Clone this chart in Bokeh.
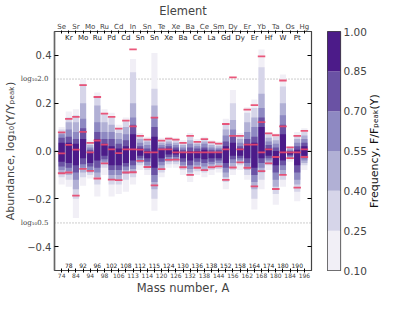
import numpy as np
from bokeh.plotting import figure
from bokeh.layouts import row
from bokeh.models import FixedTicker, LinearAxis, Span, PrintfTickFormatter
from bokeh.embed import file_html
from bokeh.resources import INLINE
from bokeh.core.properties import value

# ---------------- data ----------------
elements = ["Se", "Kr", "Sr", "Mo", "Mo", "Ru", "Ru", "Pd", "Cd", "Cd", "In", "Sn",
            "Sn", "Sn", "Te", "Xe", "Xe", "Ba", "Ba", "Ce", "Ce", "La", "Sm", "Gd",
            "Dy", "Dy", "Er", "Er", "Yb", "Hf", "Ta", "W", "Os", "Pt", "Hg"]
mass_numbers = [74, 78, 84, 92, 94, 96, 98, 102, 106, 108, 113, 112, 114, 115, 120,
                124, 126, 130, 132, 136, 138, 138, 144, 152, 156, 158, 162, 164, 168,
                174, 180, 180, 184, 190, 196]

freq_ticks = [0.10, 0.25, 0.40, 0.55, 0.70, 0.85, 1.00]
palette = ["#f1eff6", "#d6d5e9", "#b1b0d5", "#8e89c2", "#6a52a4", "#4c1b89"]

# upper / lower edges of the region where F/F_peak exceeds each level
top_10 = [0.10, 0.165, 0.175, 0.30, 0.045, 0.245, 0.175, 0.16, 0.11, 0.14, 0.385, 0.075,
          0.06, 0.41, 0.055, 0.06, 0.055, 0.045, 0.075, 0.05, 0.06, 0.045, 0.04, 0.135,
          0.255, 0.075, 0.183, 0.215, 0.425, 0.08, 0.073, 0.32, 0.02, 0.08, 0.095]
top_25 = [0.09, 0.14, 0.15, 0.28, 0.035, 0.23, 0.155, 0.14, 0.095, 0.125, 0.33, 0.065,
          0.05, 0.26, 0.045, 0.05, 0.045, 0.035, 0.06, 0.04, 0.05, 0.035, 0.03, 0.115,
          0.20, 0.065, 0.16, 0.18, 0.35, 0.07, 0.06, 0.27, 0.015, 0.065, 0.08]
top_40 = [0.08, 0.12, 0.12, 0.20, 0.025, 0.19, 0.12, 0.11, 0.075, 0.10, 0.20, 0.05,
          0.04, 0.19, 0.035, 0.04, 0.035, 0.025, 0.045, 0.03, 0.04, 0.025, 0.02, 0.09,
          0.13, 0.05, 0.12, 0.14, 0.24, 0.055, 0.045, 0.20, 0.01, 0.05, 0.065]
top_55 = [0.07, 0.09, 0.08, 0.135, 0.015, 0.12, 0.08, 0.08, 0.05, 0.07, 0.14, 0.035,
          0.025, 0.14, 0.025, 0.03, 0.025, 0.015, 0.03, 0.02, 0.03, 0.015, 0.012, 0.065,
          0.09, 0.035, 0.08, 0.10, 0.18, 0.04, 0.03, 0.15, 0.005, 0.035, 0.05]
top_70 = [0.055, 0.06, 0.05, 0.095, 0.005, 0.08, 0.05, 0.05, 0.03, 0.045, 0.11, 0.02,
          0.01, 0.10, 0.015, 0.02, 0.015, 0.005, 0.015, 0.01, 0.015, 0.005, 0.005, 0.04,
          0.06, 0.02, 0.05, 0.06, 0.14, 0.025, 0.015, 0.11, 0.0, 0.02, 0.035]
top_85 = [0.035, 0.035, 0.03, 0.05, -0.005, 0.05, 0.03, 0.02, 0.01, 0.02, 0.07, 0.01,
          0.0, 0.06, 0.005, 0.01, 0.005, -0.005, 0.0, 0.0, 0.005, -0.005, -0.005, 0.02,
          0.035, 0.01, 0.03, 0.035, 0.10, 0.01, 0.0, 0.07, -0.005, 0.005, 0.02]
bot_85 = [-0.045, -0.05, -0.06, -0.03, -0.05, -0.04, -0.02, -0.06, -0.06, -0.05, -0.04, -0.02,
          -0.03, -0.07, -0.03, -0.015, -0.015, -0.03, -0.04, -0.03, -0.035, -0.03, -0.03, -0.05,
          -0.02, -0.02, -0.03, -0.07, -0.03, -0.02, -0.06, -0.04, -0.015, -0.06, -0.02]
bot_70 = [-0.065, -0.07, -0.09, -0.055, -0.065, -0.07, -0.035, -0.08, -0.08, -0.065, -0.06, -0.03,
          -0.045, -0.10, -0.045, -0.025, -0.025, -0.045, -0.06, -0.045, -0.05, -0.045, -0.04, -0.07,
          -0.035, -0.03, -0.05, -0.10, -0.05, -0.03, -0.09, -0.06, -0.02, -0.09, -0.03]
bot_55 = [-0.08, -0.085, -0.12, -0.07, -0.08, -0.09, -0.045, -0.10, -0.10, -0.08, -0.075, -0.04,
          -0.06, -0.13, -0.06, -0.035, -0.035, -0.06, -0.075, -0.06, -0.065, -0.055, -0.05, -0.09,
          -0.05, -0.04, -0.065, -0.13, -0.07, -0.04, -0.12, -0.08, -0.025, -0.12, -0.04]
bot_40 = [-0.095, -0.10, -0.16, -0.09, -0.09, -0.11, -0.055, -0.12, -0.12, -0.095, -0.09, -0.05,
          -0.07, -0.16, -0.075, -0.045, -0.045, -0.07, -0.09, -0.07, -0.08, -0.065, -0.06, -0.11,
          -0.065, -0.05, -0.08, -0.16, -0.09, -0.05, -0.15, -0.10, -0.03, -0.14, -0.05]
bot_25 = [-0.11, -0.12, -0.20, -0.11, -0.10, -0.14, -0.07, -0.14, -0.14, -0.12, -0.11, -0.06,
          -0.08, -0.20, -0.09, -0.055, -0.055, -0.08, -0.105, -0.085, -0.09, -0.08, -0.075, -0.13,
          -0.08, -0.06, -0.10, -0.20, -0.12, -0.06, -0.18, -0.12, -0.035, -0.17, -0.06]
bot_10 = [-0.14, -0.15, -0.28, -0.145, -0.115, -0.19, -0.10, -0.19, -0.18, -0.17, -0.14, -0.08,
          -0.10, -0.25, -0.11, -0.07, -0.07, -0.10, -0.13, -0.10, -0.11, -0.10, -0.09, -0.16,
          -0.10, -0.08, -0.12, -0.245, -0.16, -0.08, -0.225, -0.15, -0.045, -0.21, -0.08]

# red markers (column index, abundance)
mark_idx = [0, 0, 0, 1, 1, 1, 2, 2, 2, 3, 3, 3, 4, 4, 4, 5, 5, 5, 6, 6, 6, 7, 7, 7,
            8, 8, 8, 9, 9, 9, 10, 10, 10, 10, 11, 11, 11, 12, 12, 12, 13, 13, 13,
            14, 14, 14, 15, 15, 15, 16, 16, 16, 17, 17, 17, 18, 18, 18, 19, 19, 19,
            20, 20, 20, 21, 21, 21, 22, 22, 22, 23, 23, 23, 24, 24, 24, 25, 25, 25,
            26, 26, 26, 27, 27, 27, 28, 28, 28, 28, 29, 29, 29, 30, 30, 30,
            31, 31, 31, 31, 32, 32, 32, 33, 33, 33, 34, 34, 34]
mark_val = [0.078, -0.01, -0.093, 0.134, 0.026, -0.09, 0.143, 0.006, -0.187,
            0.276, 0.08, -0.075, 0.034, -0.006, -0.083, 0.226, 0.044, -0.115,
            0.156, 0.027, -0.052, 0.143, 0.007, -0.12, 0.094, -0.009, -0.122,
            0.127, 0.007, -0.09, 0.425, 0.103, 0.007, -0.089, 0.063, 0.006, -0.041,
            0.048, -0.006, -0.067, 0.14, -0.006, -0.144, 0.043, 0.007, -0.076,
            0.052, 0.007, -0.037, 0.048, -0.006, -0.036, 0.034, -0.006, -0.068,
            0.063, -0.006, -0.10, 0.038, -0.006, -0.07, 0.05, -0.006, -0.08,
            0.036, -0.006, -0.068, 0.031, -0.006, -0.064, 0.113, 0.007, -0.121,
            0.308, 0.063, -0.069, 0.063, 0.007, -0.048, 0.173, 0.027, -0.07,
            0.192, 0.027, -0.148, 0.396, 0.121, -0.006, -0.084, 0.074, 0.007, -0.052,
            0.066, -0.025, -0.159, 0.295, 0.103, -0.006, -0.10, 0.015, -0.006, -0.03,
            0.063, -0.006, -0.153, 0.084, 0.007, -0.025]

y_ticks = [-0.4, -0.2, 0.0, 0.2, 0.4]
y_tick_labels = ["\u22120.4", "\u22120.2", "0.0", "0.2", "0.4"]
ref_ratios = [2.0, 0.5]
ref_labels = ["log\u2081\u20802.0", "log\u2081\u20800.5"]
cbar_title = "Frequency, F/F\u209a\u2091\u2090\u2096(Y)"

# ---------------- layout constants ----------------
n = len(elements)
xs = list(range(n))
FONT = "DejaVu Sans"
FH = 239      # frame height shared by all three panels
TOP = 23      # shared top border

# ---------------- main figure ----------------
p = figure(frame_width=257, frame_height=FH, x_range=(-1, n), y_range=(-0.5, 0.5),
           output_backend="svg", toolbar_location=None,
           min_border_left=44, min_border_right=16, min_border_top=TOP, min_border_bottom=0)
p.grid.visible = False
p.outline_line_color = "#444444"
p.outline_line_width = 1.2

ref_locs = [float(np.log10(r)) for r in ref_ratios]
for loc in ref_locs:
    p.add_layout(Span(location=loc, dimension="width", line_color="#999999",
                      line_dash="1 2", line_width=1, level="underlay"))
p.add_layout(Span(location=0.0, dimension="width", line_color="#bbbbbb",
                  line_dash="4 3", line_width=1, level="underlay"))

tops = [top_10, top_25, top_40, top_55, top_70, top_85]
bots = [bot_10, bot_25, bot_40, bot_55, bot_70, bot_85]
for k in range(6):
    p.vbar(x=xs, width=0.86, top=tops[k], bottom=bots[k], fill_color=palette[k],
           line_color=None)

p.scatter(x=mark_idx, y=mark_val, marker="dash", size=7.5, line_color="#e8466d",
          line_width=1.8, line_alpha=0.9)

xt = FixedTicker(ticks=xs)
ax = p.xaxis[0]
ax.ticker = xt
ax.major_label_overrides = {i: (str(mass_numbers[i]) if i % 2 == 0 else "") for i in xs}
ax.major_label_text_font_size = "6px"
ax.major_label_text_font = FONT
ax.major_label_standoff = 0
ax.major_tick_in = 2
ax.major_tick_out = 2
ax.minor_tick_out = 0
ax.minor_tick_line_color = None
ax.axis_line_color = "#444444"
ax.axis_label = "Mass number, A"
ax.axis_label_text_font = FONT
ax.axis_label_text_font_style = "normal"
ax.axis_label_text_font_size = "11.5px"
ax.axis_label_standoff = 0

top_ax = LinearAxis(ticker=xt,
                    major_label_overrides={i: (elements[i] if i % 2 == 0 else "") for i in xs},
                    major_label_text_font_size="7px", major_label_text_font=FONT,
                    major_label_standoff=0, major_tick_in=2, major_tick_out=1, minor_tick_out=0,
                    minor_tick_line_color=None, axis_line_color="#444444",
                    axis_label="Element", axis_label_text_font=FONT,
                    axis_label_text_font_style="normal", axis_label_text_font_size="11.5px",
                    axis_label_standoff=2)
p.add_layout(top_ax, "above")

ya = p.yaxis[0]
ya.ticker = FixedTicker(ticks=y_ticks)
ya.major_label_overrides = {t: l for t, l in zip(y_ticks, y_tick_labels)}
ya.major_label_text_font = FONT
ya.major_label_text_font_size = "10px"
ya.major_tick_in = 4
ya.major_tick_out = 0
ya.minor_tick_out = 0
ya.major_label_standoff = 3
ya.minor_tick_line_color = None
ya.axis_line_color = "#666666"
ya.axis_line_width = 1.5

ya2 = LinearAxis(ticker=FixedTicker(ticks=ref_locs),
                 major_label_overrides={t: l for t, l in zip(ref_locs, ref_labels)},
                 major_label_text_font="DejaVu Serif", major_label_text_font_size="7px",
                 major_label_standoff=-24, major_tick_line_color=None, major_tick_out=0,
                 minor_tick_out=0, minor_tick_line_color=None, axis_line_color=None,
                 axis_label="Abundance, log\u2081\u2080(Y/Y\u209a\u2091\u2090\u2096)",
                 axis_label_text_font=FONT, axis_label_text_font_style="normal",
                 axis_label_text_font_size="11px", axis_label_standoff=1)
p.add_layout(ya2, "left")

ra = LinearAxis(ticker=FixedTicker(ticks=y_ticks),
                major_label_overrides={t: "" for t in y_ticks},
                major_label_standoff=0, major_tick_in=4, major_tick_out=0, minor_tick_out=0,
                minor_tick_line_color=None, axis_line_color="#444444")
p.add_layout(ra, "right")

odd = xs[1::2]
p.text(x=odd, y=[p.y_range.end] * len(odd), text=[elements[i] for i in odd],
       text_font=value(FONT), text_font_size="7px", text_align="center",
       text_baseline="top", y_offset=2, text_color="#222222")
p.text(x=odd, y=[p.y_range.start] * len(odd), text=[str(mass_numbers[i]) for i in odd],
       text_font=value(FONT), text_font_size="6px", text_align="center",
       text_baseline="bottom", y_offset=-3, text_color="#222222")

# ---------------- colour bar ----------------
pc = figure(frame_width=13, frame_height=FH, x_range=(0, 1),
            y_range=(freq_ticks[0], freq_ticks[-1]), output_backend="svg",
            toolbar_location=None, x_axis_location=None, y_axis_location="right",
            min_border_left=0, min_border_right=0, min_border_top=TOP, min_border_bottom=20)
pc.grid.visible = False
pc.outline_line_color = "#444444"
pc.outline_line_width = 1.2
pc.quad(left=0, right=1, bottom=freq_ticks[:-1], top=freq_ticks[1:], fill_color=palette,
        line_color=None)
cy = pc.yaxis[0]
cy.ticker = FixedTicker(ticks=freq_ticks)
cy.formatter = PrintfTickFormatter(format="%.2f")
cy.major_label_text_font = FONT
cy.major_label_text_font_size = "10.5px"
cy.major_label_standoff = 3
cy.major_tick_out = 0
cy.minor_tick_out = 0
cy.major_tick_line_color = None
cy.minor_tick_line_color = None
cy.axis_line_color = None

# colour-bar title, reading bottom to top
pl = figure(frame_width=14, frame_height=FH, x_range=(0, 1), y_range=(0, 1),
            output_backend="svg", toolbar_location=None,
            min_border_left=0, min_border_right=0, min_border_top=TOP, min_border_bottom=0)
pl.axis.visible = False
pl.grid.visible = False
pl.outline_line_color = None
pl.background_fill_alpha = 0
pl.border_fill_alpha = 0
pl.margin = (0, 0, 0, -2)
pl.text(x=[0.5], y=[0.5], text=[cbar_title], angle=np.pi / 2, text_align="center",
        text_baseline="middle", text_font=value(FONT), text_font_size="11px",
        text_color="#111111")

layout = row(p, pc, pl)
open("out.html", "w").write(file_html(layout, INLINE))
